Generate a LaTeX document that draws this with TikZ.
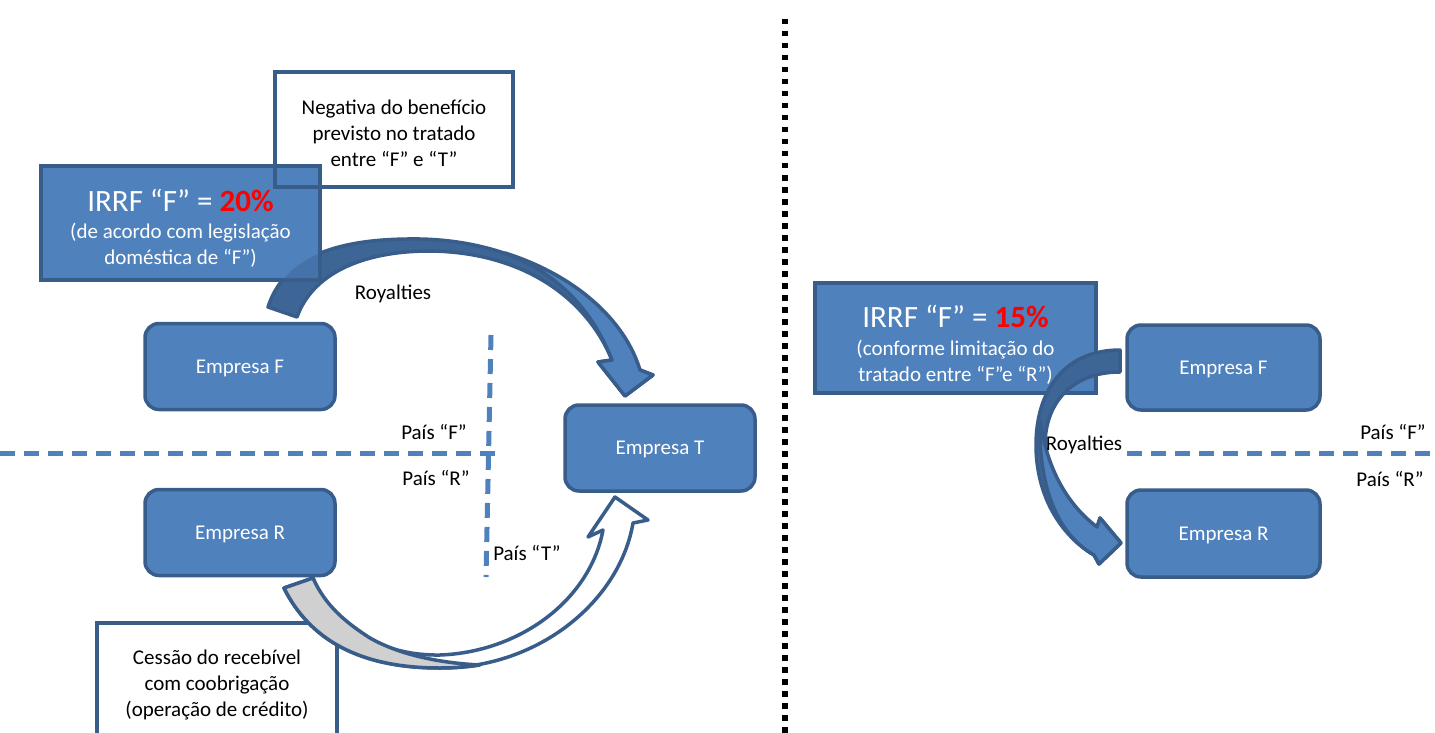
\documentclass[tikz,border=0pt]{standalone}
\usepackage{fontspec}
\setmainfont{Carlito}
\definecolor{boxfill}{HTML}{4F81BD}
\definecolor{boxline}{HTML}{385D8A}
\definecolor{arrowback}{HTML}{3D6697}
\definecolor{backgray}{HTML}{D0D0D0}
\newcommand\lblfont{\fontsize{21}{26}\selectfont}
\newcommand\bigfont{\fontsize{31}{31}\selectfont}
% outline of the curved royalties arrow from F to T
\def\royaltyarrow{(268,307) .. controls (285,255) and (340,238) .. (420,239)
  .. controls (520,241) and (600,290) .. (640,370) -- (653,375) -- (625,396) -- (598,362)
  -- (612,360) .. controls (585,295) and (520,252) .. (430,251)
  .. controls (360,251) and (312,275) .. (297,317) -- cycle}
\begin{document}
\begin{tikzpicture}[x=1pt,y=-1pt,
  company/.style={draw=boxline, fill=boxfill, line width=3.5pt, rounded corners=14pt,
    text=white, font=\lblfont, minimum width=190pt, minimum height=86pt, inner sep=0pt,
    text depth=0pt},
  taxbox/.style={draw=boxline, fill=boxfill, line width=3.5pt, text=white, font=\lblfont,
    align=center, inner sep=0pt},
  notebox/.style={draw=boxline, line width=3.5pt, font=\lblfont, align=center, inner sep=0pt},
  label/.style={font=\lblfont, inner sep=0pt},
  border/.style={draw=boxline, line width=3.5pt, line join=round},
  divider/.style={draw=boxfill, line width=5pt, dash pattern=on 15pt off 9pt},
  frontier/.style={draw=black, line width=5.5pt, dash pattern=on 5.5pt off 6.5pt}]
\useasboundingbox (0,0) rectangle (1435,733);
\clip (0,0) rectangle (1435,733);

% ---------- left scenario ----------
% country borders
\draw[divider] (0,453) -- (495,453);
\draw[divider] (491,335) -- (486,577);

% credit assignment note (runs off the bottom edge)
\node[notebox, minimum width=240pt, minimum height=124pt] (cessao) at (217,685)
  {Cessão do recebível\\com coobrigação\\(operação de crédito)};

% receivable assignment arrow R -> T
\path[border, fill=white] (284,588) .. controls (310,640) and (360,668) .. (440,668)
  .. controls (540,668) and (620,600) .. (633,523) -- (648,520) -- (615,497) -- (588,537)
  -- (603,530) .. controls (590,600) and (520,652) .. (440,655)
  .. controls (380,656) and (330,625) .. (313,578) -- cycle;
\path[border, fill=backgray] (284,588) .. controls (310,640) and (360,668) .. (440,668)
  .. controls (455,668) and (468,667) .. (480,665)
  .. controls (440,663) and (400,655) .. (370,638)
  .. controls (345,622) and (325,605) .. (313,578) -- cycle;

% companies
\node[company] (empF) at (240,366.5) {Empresa F};
\node[company] (empR) at (240,532.5) {Empresa R};
\node[company] (empT) at (660,448) {Empresa T};

% royalties arrow F -> T
\path[border, fill=arrowback] \royaltyarrow;
\path[border, fill=boxfill] (505,253) .. controls (575,275) and (625,320) .. (640,370)
  -- (653,375) -- (625,396) -- (598,362) -- (612,360)
  .. controls (592,310) and (560,275) .. (505,253) -- cycle;

% withholding tax box, with the arrow showing faintly through it
\node[taxbox, minimum width=279pt, minimum height=114pt] (irrf20) at (180.5,223)
  {{\bigfont\rule{0pt}{33pt}IRRF “F” = \textcolor{red}{\textbf{20\%}}}\\[1pt](de acordo com legislação\\doméstica de “F”)};
\begin{scope}
  \clip (42.75,167.75) rectangle (318.25,278.25);
  \fill[arrowback, opacity=.5] \royaltyarrow;
\end{scope}
\node[notebox, minimum width=238pt, minimum height=115pt] (negativa) at (394,129.5)
  {\rule{0pt}{22pt}Negativa do benefício\\previsto no tratado\\entre “F” e “T”};

% labels
\node[label] (royL) at (393,294) {Royalties};
\node[label] (paisF) at (434,432) {País “F”};
\node[label] (paisR) at (436,478) {País “R”};
\node[label] (paisT) at (527,553) {País “T”};

% ---------- separator ----------
\draw[frontier] (785,19) -- (785,740);

% ---------- right scenario ----------
\node[taxbox, minimum width=281pt, minimum height=110pt] (irrf15) at (955.5,338)
  {{\bigfont\rule{0pt}{35pt}IRRF “F” = \textcolor{red}{\textbf{15\%}}}\\[2pt](conforme limitação do\\tratado entre “F”e “R”)};

% royalties arrow F -> R
\path[border, fill=arrowback] (1120,350) -- (1120,372) .. controls (1070,372) and (1045,405) .. (1045,445)
  .. controls (1045,485) and (1070,515) .. (1097,527) -- (1100,518) -- (1121,543) -- (1099,564)
  -- (1094,555) .. controls (1060,535) and (1036,495) .. (1036,445)
  .. controls (1036,390) and (1065,350) .. (1120,350) -- cycle;
\path[border, fill=boxfill] (1040,420) .. controls (1038,495) and (1062,537) .. (1094,555)
  -- (1099,564) -- (1121,543) -- (1100,518) -- (1097,527)
  .. controls (1068,505) and (1047,470) .. (1040,420) -- cycle;

\node[company, minimum width=193pt, minimum height=85pt] (empF2) at (1223.5,367.5) {Empresa F};
\node[company, minimum width=193pt, minimum height=87pt] (empR2) at (1223.5,533.5) {Empresa R};

\draw[divider] (1127,453) -- (1440,453);

\node[label] (royR) at (1084,445) {Royalties};
\node[label] (paisF2) at (1393,432) {País “F”};
\node[label] (paisR2) at (1390,479) {País “R”};
\end{tikzpicture}
\end{document}
